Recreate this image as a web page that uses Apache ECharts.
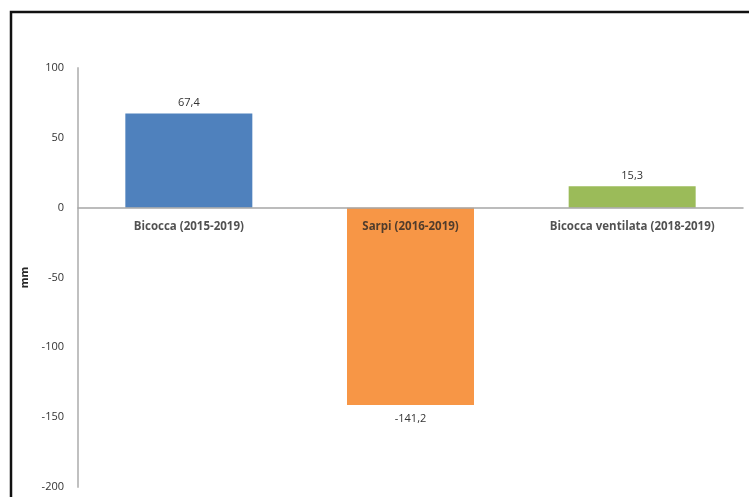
<!DOCTYPE html>
<html>
<head>
<meta charset="utf-8">
<script src="https://cdn.jsdelivr.net/npm/echarts@6/dist/echarts.min.js"></script>
<style>
  html, body { margin: 0; padding: 0; background: #fff; }
  #chart { width: 749px; height: 497px; }
</style>
</head>
<body>
<div id="chart"></div>
<script>
// Site names and measured displacement (mm)
const categories = ['Bicocca (2015-2019)', 'Sarpi (2016-2019)', 'Bicocca ventilata (2018-2019)'];
const values = [67.4, -141.2, 15.3];
const barColors = ['#4f81bd', '#f79646', '#9bbb59'];
const yTicks = [100, 50, 0, -50, -100, -150, -200];

const chart = echarts.init(document.getElementById('chart'), null, { renderer: 'canvas' });

const fmt = v => String(v).replace('.', ',');

chart.setOption({
  animation: false,
  backgroundColor: '#fff',
  textStyle: { fontFamily: 'Open Sans, Liberation Sans, sans-serif' },
  graphic: [{
    type: 'rect',
    shape: { x: 11, y: 12, width: 900, height: 700 },
    style: { fill: 'none', stroke: '#111', lineWidth: 2.5 },
    silent: true
  }],
  grid: { left: 78, right: 6, top: 68, bottom: 10, containLabel: false, outerBoundsMode: 'none' },
  xAxis: {
    type: 'category',
    data: categories,
    z: 5,
    axisLine: { onZero: true, lineStyle: { color: '#a6a6a6', width: 1.5 } },
    axisTick: { show: false },
    axisLabel: { show: false },
    splitLine: { show: false }
  },
  yAxis: {
    type: 'value',
    min: yTicks[yTicks.length - 1],
    max: yTicks[0],
    interval: 50,
    name: 'mm',
    nameLocation: 'middle',
    nameGap: 44,
    nameRotate: 90,
    nameTextStyle: { fontSize: 11, fontWeight: 'bold', color: '#262626' },
    axisLine: { show: true, lineStyle: { color: '#c0c0c0', width: 2 } },
    axisTick: { show: false },
    splitLine: { show: false },
    axisLabel: { fontSize: 11, color: '#333', margin: 14 }
  },
  series: [{
    type: 'bar',
    barWidth: 127,
    data: values.map((v, i) => ({
      value: v,
      itemStyle: { color: barColors[i] },
      label: { position: v >= 0 ? 'top' : 'bottom', distance: v >= 0 ? 5 : 8 }
    })),
    label: {
      show: true,
      formatter: p => fmt(p.value),
      fontSize: 11,
      color: '#333'
    }
  }, {
    // category names sitting just under the zero line
    type: 'scatter',
    z: 10,
    symbolSize: 0,
    silent: true,
    data: categories.map(c => [c, 0]),
    label: {
      show: true,
      position: 'bottom',
      distance: 13,
      formatter: p => p.name || p.value[0],
      fontSize: 11.5,
      fontWeight: 'bold',
      color: '#262626'
    }
  }]
});
</script>
</body>
</html>
